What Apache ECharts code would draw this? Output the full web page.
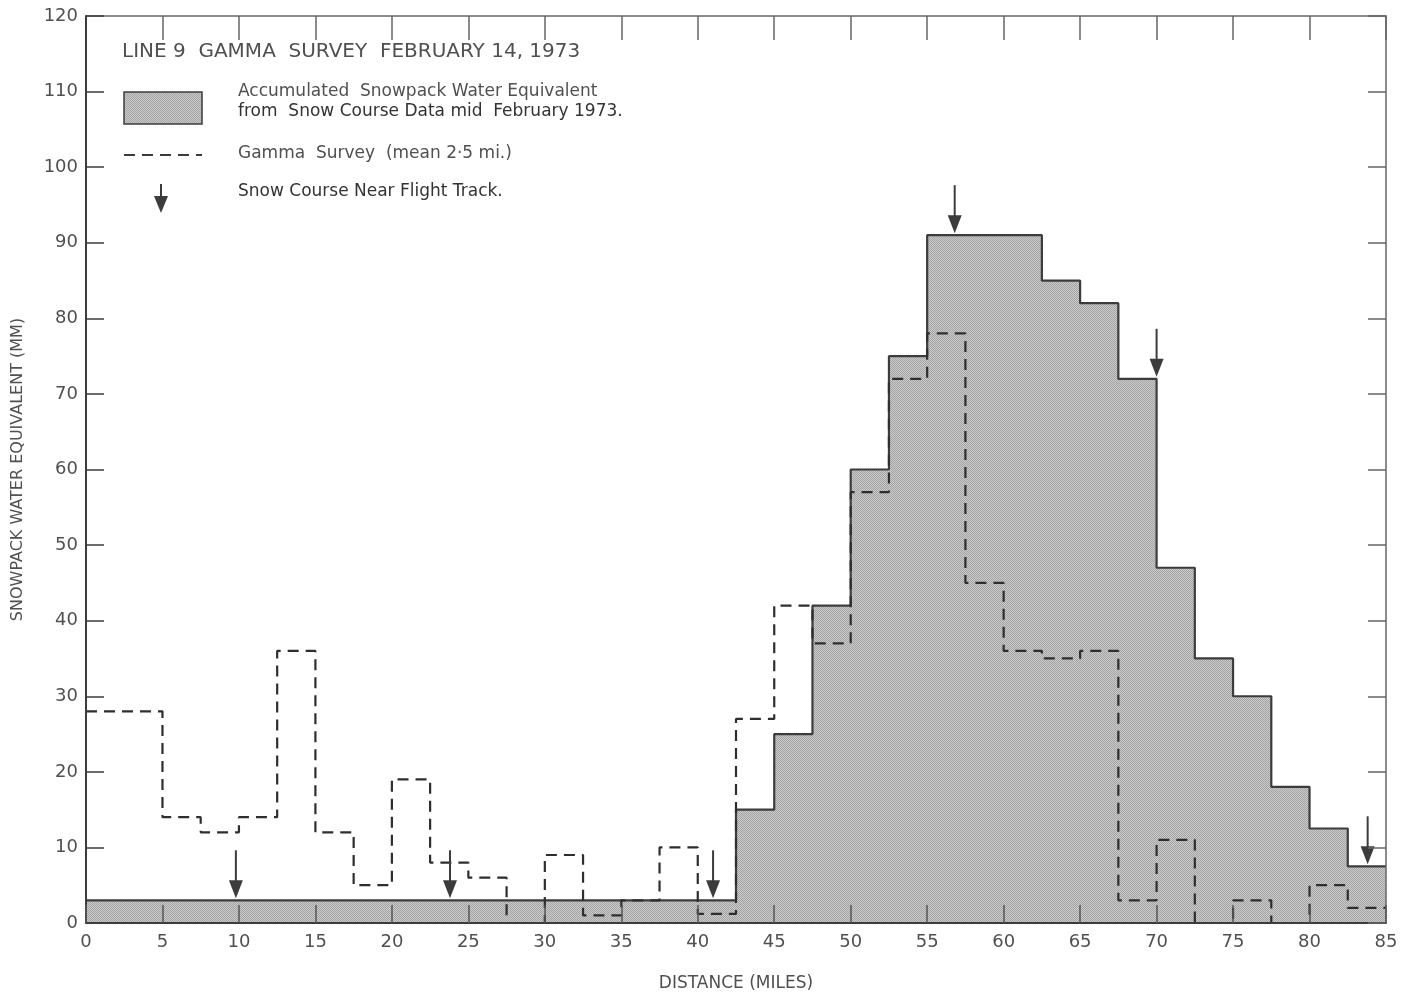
<!DOCTYPE html>
<html>
<head>
<meta charset="utf-8">
<style>
  html, body { margin: 0; background: #fff; }
  #chart { width: 1419px; height: 999px; }
</style>
<script src="https://cdn.jsdelivr.net/npm/echarts@6/dist/echarts.min.js"></script>
</head>
<body>
<div id="chart"></div>
<script>
// left edge of each 2.5 mile segment (miles)
const binStart = [0, 2.5, 5, 7.5, 10, 12.5, 15, 17.5, 20, 22.5, 25, 27.5, 30, 32.5, 35, 37.5, 40,
  42.5, 45, 47.5, 50, 52.5, 55, 57.5, 60, 62.5, 65, 67.5, 70, 72.5, 75, 77.5, 80, 82.5]
const endMile = 85

// snow course accumulated water equivalent (mm)
const snowCourse = [3, 3, 3, 3, 3, 3, 3, 3, 3, 3, 3, 3, 3, 3, 3, 3, 3,
  15, 25, 42, 60, 75, 91, 91, 91, 85, 82, 72, 47, 35, 30, 18, 12.5, 7.5]

// gamma survey (mean 2.5 mi)
const gammaSurvey = [28, 28, 14, 12, 14, 36, 12, 5, 19, 8, 6, 0, 9, 1, 3, 10, 1.2,
  27, 42, 37, 57, 72, 78, 45, 36, 35, 36, 3, 11, 0, 3, 0, 5, 2]

// snow courses near flight track: [mile, value at arrow tip]
const courseMile = [9.8, 23.8, 41, 56.8, 70, 83.8]
const courseTip = [3, 3, 3, 91, 72, 7.5]

const xTicks = [0, 5, 10, 15, 20, 25, 30, 35, 40, 45, 50, 55, 60, 65, 70, 75, 80, 85]
const yTicks = [0, 10, 20, 30, 40, 50, 60, 70, 80, 90, 100, 110, 120]

const INK = '#3c3c3c'
const TEXT = '#505050'
const FONT = 'DejaVu Sans'

function stipple() {
  const c = document.createElement('canvas')
  c.width = 2; c.height = 2
  const g = c.getContext('2d')
  g.fillStyle = '#cacaca'
  g.fillRect(0, 0, 2, 2)
  g.fillStyle = '#a4a4a4'
  g.fillRect(0, 0, 1, 1)
  g.fillRect(1, 1, 1, 1)
  return c
}
const PATTERN = { image: stipple(), repeat: 'repeat' }

function steps(vals) {
  const pts = vals.map((v, i) => [binStart[i], v])
  pts.push([endMile, vals[vals.length - 1]])
  return pts
}

const chart = echarts.init(document.getElementById('chart'))

const axisText = { color: TEXT, fontFamily: FONT, fontSize: 18 }

chart.setOption({
  animation: false,
  backgroundColor: '#fff',
  grid: { left: 86, right: 33, top: 16, bottom: 76 },
  xAxis: [{
    type: 'value', min: 0, max: 85, interval: 5, z: 5,
    name: 'DISTANCE (MILES)', nameLocation: 'middle', nameGap: 52,
    nameTextStyle: { ...axisText, fontSize: 17 },
    axisLine: { onZero: false, lineStyle: { color: INK, width: 2 } },
    axisTick: { inside: true, length: 18, lineStyle: { color: '#555', width: 1.5 } },
    axisLabel: { ...axisText, margin: 10, formatter: v => xTicks.includes(v) ? String(v) : '' },
    splitLine: { show: false }
  }, {
    type: 'value', position: 'top', min: 0, max: 85, interval: 5,
    axisLine: { show: true, onZero: false, lineStyle: { color: '#666', width: 1.5 } },
    axisTick: { inside: true, length: 24, lineStyle: { color: '#666', width: 1.5 } },
    axisLabel: { show: false },
    splitLine: { show: false }
  }],
  yAxis: [{
    type: 'value', min: 0, max: 120, interval: 10, z: 5,
    name: 'SNOWPACK WATER EQUIVALENT (MM)', nameLocation: 'middle', nameGap: 60,
    nameTextStyle: { ...axisText, fontSize: 16 },
    axisLine: { show: true, onZero: false, lineStyle: { color: INK, width: 2 } },
    axisTick: { inside: true, length: 18, lineStyle: { color: INK, width: 1.5 } },
    axisLabel: { ...axisText, margin: 8, formatter: v => yTicks.includes(v) ? String(v) : '' },
    splitLine: { show: false }
  }, {
    type: 'value', position: 'right', min: 0, max: 120, interval: 10, z: 5,
    axisLine: { show: true, onZero: false, lineStyle: { color: '#666', width: 1.5 } },
    axisTick: { inside: true, length: 18, lineStyle: { color: '#666', width: 1.5 } },
    axisLabel: { show: false },
    splitLine: { show: false }
  }],
  graphic: [
    { type: 'text', left: 122, top: 42, style: { text: 'LINE 9  GAMMA  SURVEY  FEBRUARY 14, 1973', fill: TEXT, font: '20px ' + FONT } },
    { type: 'rect', shape: { x: 124, y: 92, width: 78, height: 32 }, style: { fill: PATTERN, stroke: INK, lineWidth: 1.5 } },
    { type: 'text', left: 238, top: 83, style: { text: 'Accumulated  Snowpack Water Equivalent', fill: TEXT, font: '17px ' + FONT } },
    { type: 'text', left: 238, top: 103, style: { text: 'from  Snow Course Data mid  February 1973.', fill: '#333', font: '17px ' + FONT } },
    { type: 'line', shape: { x1: 124, y1: 155, x2: 202, y2: 155 }, style: { stroke: INK, lineWidth: 2, lineDash: [11, 7] } },
    { type: 'text', left: 238, top: 145, style: { text: 'Gamma  Survey  (mean 2·5 mi.)', fill: TEXT, font: '17px ' + FONT } },
    { type: 'line', shape: { x1: 161, y1: 184, x2: 161, y2: 200 }, style: { stroke: INK, lineWidth: 2 } },
    { type: 'polygon', shape: { points: [[154, 196], [168, 196], [161, 213]] }, style: { fill: INK } },
    { type: 'text', left: 238, top: 183, style: { text: 'Snow Course Near Flight Track.', fill: '#333', font: '17px ' + FONT } }
  ],
  series: [{
    name: 'Accumulated Snowpack Water Equivalent',
    type: 'line', step: 'end', symbol: 'none',
    data: steps(snowCourse),
    lineStyle: { color: INK, width: 2.2 },
    areaStyle: { color: PATTERN, opacity: 1, origin: 0 },
    z: 2
  }, {
    name: 'Gamma Survey',
    type: 'line', step: 'end', symbol: 'none',
    data: steps(gammaSurvey),
    lineStyle: { color: '#2e2e2e', width: 2.2, type: [11, 7] },
    z: 3
  }, {
    name: 'Snow Course Near Flight Track',
    type: 'custom',
    data: courseMile.map((m, i) => [m, courseTip[i]]),
    renderItem: (params, api) => {
      const p = api.coord([api.value(0), api.value(1)])
      const x = p[0], y = p[1] - 2
      return {
        type: 'group',
        children: [
          { type: 'line', shape: { x1: x, y1: y - 48, x2: x, y2: y - 14 }, style: { stroke: INK, lineWidth: 2 } },
          { type: 'polygon', shape: { points: [[x - 7, y - 18], [x + 7, y - 18], [x, y]] }, style: { fill: INK } }
        ]
      }
    },
    z: 4
  }]
})
</script>
</body>
</html>
